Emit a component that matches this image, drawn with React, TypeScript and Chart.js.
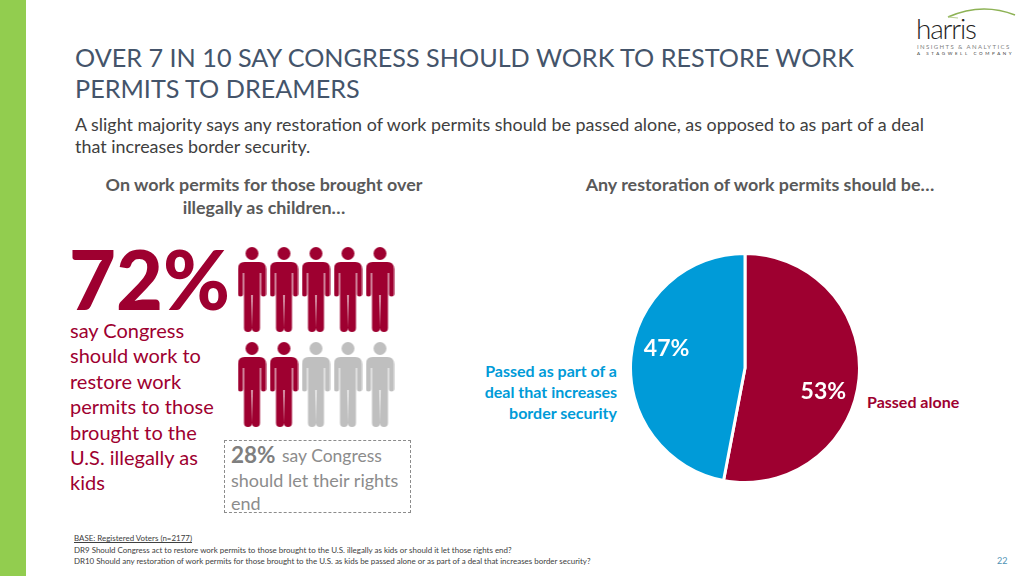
import React, { useEffect, useRef } from "react";
import { Chart, registerables } from "chart.js";

Chart.register(...registerables);

const pieLabels = ["Passed alone", "Passed as part of a deal that increases border security"];
const pieValues = [53, 47];
const pieColors = ["#9E0030", "#009BD8"];

const peopleColumns = [0, 1, 2, 3, 4, 0, 1, 2, 3, 4];
const peopleRows = [0, 0, 0, 0, 0, 1, 1, 1, 1, 1];
const peopleAgree = [1, 1, 1, 1, 1, 1, 1, 0, 0, 0];

const titleLines = ["OVER 7 IN 10 SAY CONGRESS SHOULD WORK TO RESTORE WORK", "PERMITS TO DREAMERS"];
const subtitleLines = [
  "A slight majority says any restoration of work permits should be passed alone, as opposed to as part of a deal",
  "that increases border security.",
];
const leftHeader = ["On work permits for those brought over", "illegally as children\u2026"];
const rightHeader = "Any restoration of work permits should be\u2026";
const sayLines = ["say Congress", "should work to", "restore work", "permits to those", "brought to the", "U.S. illegally as", "kids"];
const footLines = [
  "BASE: Registered Voters (n=2177)",
  "DR9 Should Congress act to restore work permits to those brought to the U.S. illegally as kids or should it let those rights end?",
  "DR10 Should any restoration of work permits for those brought to the U.S. as kids be passed alone or as part of a deal that increases border security?",
];

const FONT = "Lato, sans-serif";
const CRIMSON = "#9E0030";
const BLUE = "#009BD8";
const GREY_ICON = "#BFBFBF";

function personIcon(color: string): HTMLCanvasElement {
  const c = document.createElement("canvas");
  c.width = 29;
  c.height = 86;
  const g = c.getContext("2d")!;
  g.fillStyle = color;
  g.beginPath();
  g.arc(14.5, 6.5, 6.5, 0, Math.PI * 2);
  g.fill();
  g.beginPath();
  g.moveTo(7, 15);
  g.lineTo(22, 15);
  g.quadraticCurveTo(28.5, 15, 28.5, 22);
  g.lineTo(28.5, 47);
  g.arc(26, 47, 2.5, 0, Math.PI);
  g.lineTo(23.5, 26);
  g.lineTo(22.5, 26);
  g.lineTo(22.5, 81);
  g.arc(18.5, 81, 4, 0, Math.PI);
  g.lineTo(14.5 + 0.6, 48);
  g.lineTo(14.5 - 0.6, 48);
  g.lineTo(14.5, 81);
  g.arc(10.5, 81, 4, 0, Math.PI);
  g.lineTo(6.5, 26);
  g.lineTo(5.5, 26);
  g.lineTo(5.5, 47);
  g.arc(3, 47, 2.5, 0, Math.PI);
  g.lineTo(0.5, 22);
  g.quadraticCurveTo(0.5, 15, 7, 15);
  g.closePath();
  g.fill();
  return c;
}

const pieValueLabels = {
  id: "pieValueLabels",
  afterDatasetsDraw(chart: any) {
    const meta = chart.getDatasetMeta(0);
    const ctx = chart.ctx;
    ctx.save();
    ctx.font = `bold 23px ${FONT}`;
    ctx.fillStyle = "#FFFFFF";
    ctx.textAlign = "center";
    ctx.textBaseline = "middle";
    meta.data.forEach((arc: any, i: number) => {
      const mid = (arc.startAngle + arc.endAngle) / 2 + (10 * Math.PI) / 180;
      const r = arc.outerRadius * 0.71;
      ctx.fillText(`${pieValues[i]}%`, arc.x + Math.cos(mid) * r, arc.y + Math.sin(mid) * r + 2);
    });
    ctx.restore();
  },
};

type TP = {
  x: number;
  cy: number;
  size: number;
  color: string;
  bold?: boolean;
  align?: "left" | "right" | "center";
  w?: number;
  ls?: number;
  lh?: number;
  underline?: boolean;
  weight?: number;
  children: React.ReactNode;
};

function T({ x, cy, size, color, bold, align, w, ls, lh, underline, weight, children }: TP) {
  const lineH = lh ?? Math.round(size * 1.2);
  const style: React.CSSProperties = {
    position: "absolute",
    top: cy - lineH / 2,
    lineHeight: `${lineH}px`,
    fontSize: size,
    fontFamily: FONT,
    fontWeight: weight ?? (bold ? 700 : 400),
    color,
    whiteSpace: "pre",
    letterSpacing: ls ?? 0,
    textDecoration: underline ? "underline" : "none",
  };
  if (align === "right") {
    style.right = 1024 - x;
  } else if (align === "center") {
    style.left = x - (w ?? 400) / 2;
    style.width = w ?? 400;
    style.textAlign = "center";
  } else {
    style.left = x;
  }
  return <div style={style}>{children}</div>;
}

export default function App() {
  const pieRef = useRef<HTMLCanvasElement>(null);
  const peopleRef = useRef<HTMLCanvasElement>(null);

  useEffect(() => {
    document.body.style.margin = "0";
    document.body.style.background = "#FFFFFF";
    const agreeIcon = personIcon(CRIMSON);
    const otherIcon = personIcon(GREY_ICON);

    const pie = new Chart(pieRef.current!, {
      type: "pie",
      data: {
        labels: pieLabels,
        datasets: [{ data: pieValues, backgroundColor: pieColors, borderColor: "#FFFFFF", borderWidth: 3 }],
      },
      options: {
        animation: false,
        responsive: false,
        rotation: 0,
        layout: { padding: 0 },
        plugins: { legend: { display: false }, tooltip: { enabled: false } },
      },
      plugins: [pieValueLabels],
    } as any);

    const people = new Chart(peopleRef.current!, {
      type: "scatter",
      data: {
        datasets: [
          {
            data: peopleColumns.map((x, i) => ({ x, y: peopleRows[i] })),
            pointStyle: peopleAgree.map((a) => (a ? agreeIcon : otherIcon)),
            clip: false,
          },
        ],
      },
      options: {
        animation: false,
        responsive: false,
        layout: { padding: 0, autoPadding: false },
        plugins: { legend: { display: false }, tooltip: { enabled: false } },
        scales: {
          x: { type: "linear", display: false, min: -0.6875, max: 4.625 },
          y: { type: "linear", display: false, reverse: true, min: -0.526, max: 1.579 },
        },
      },
    } as any);

    return () => {
      pie.destroy();
      people.destroy();
    };
  }, []);

  return (
    <div style={{ position: "relative", width: 1024, height: 576, overflow: "hidden", background: "#FFFFFF" }}>
      <div style={{ position: "absolute", left: 0, top: 0, width: 26, height: 576, background: "#92CD4F" }} />

      {titleLines.map((t, i) => (
        <T key={t} x={75} cy={57 + i * 30.5} size={25.2} color="#44546A">
          {t}
        </T>
      ))}
      {subtitleLines.map((t, i) => (
        <T key={t} x={75} cy={124 + i * 22} size={17.9} color="#404040">
          {t}
        </T>
      ))}
      {leftHeader.map((t, i) => (
        <T key={t} x={264} cy={184.5 + i * 23} size={17.9} color="#595959" bold align="center" w={400}>
          {t}
        </T>
      ))}
      <T x={760} cy={184.5} size={17.9} color="#595959" bold align="center" w={420}>
        {rightHeader}
      </T>

      <T x={69} cy={279} size={81} color={CRIMSON} weight={900} lh={62}>
        72%
      </T>
      {sayLines.map((t, i) => (
        <T key={t} x={70} cy={330 + i * 25.4} size={20} color={CRIMSON}>
          {t}
        </T>
      ))}

      <canvas ref={peopleRef} width={170} height={200} style={{ position: "absolute", left: 230, top: 240, width: 170, height: 200 }} />

      <div
        style={{
          position: "absolute",
          left: 224,
          top: 440,
          width: 185,
          height: 71,
          border: "1px dashed #8C8C8C",
        }}
      />
      <T x={231} cy={454} size={22.5} color="#7F7F7F" bold>
        28%
      </T>
      <T x={282} cy={455} size={17.5} color="#8C8C8C">
        say Congress
      </T>
      <T x={231} cy={480} size={18} color="#8C8C8C">
        should let their rights
      </T>
      <T x={231} cy={503} size={18} color="#8C8C8C">
        end
      </T>

      <canvas ref={pieRef} width={232} height={232} style={{ position: "absolute", left: 629, top: 252, width: 232, height: 232 }} />

      {["Passed as part of a", "deal that increases", "border security"].map((t, i) => (
        <T key={t} x={617} cy={370.5 + i * 21.2} size={16} color={BLUE} bold align="right">
          {t}
        </T>
      ))}
      <T x={867} cy={401} size={16} color={CRIMSON} bold>
        Passed alone
      </T>

      {footLines.map((t, i) => (
        <T key={t} x={74} cy={538 + i * 11.5} size={7.95} color="#404040" underline={i === 0}>
          {t}
        </T>
      ))}
      <T x={997} cy={560} size={9} color="#4F93B5">
        22
      </T>

      <T x={916} cy={28} size={28} color="#1F1F1F" weight={300} ls={-1.2} lh={24}>
        harris
      </T>
      <T x={917} cy={46} size={6} color="#808080" ls={1.4} lh={7}>
        INSIGHTS &amp; ANALYTICS
      </T>
      <T x={917} cy={54} size={4.5} color="#404040" ls={2.6} lh={6}>
        A STAGWELL COMPANY
      </T>
      <svg width={1024} height={60} style={{ position: "absolute", left: 0, top: 0 }}>
        <path d="M948 17 Q982 2 1015 15" stroke="#8DB255" strokeWidth={1.6} fill="none" />
        <path d="M948 17 L958 18" stroke="#B9CF92" strokeWidth={1} fill="none" />
      </svg>
    </div>
  );
}
